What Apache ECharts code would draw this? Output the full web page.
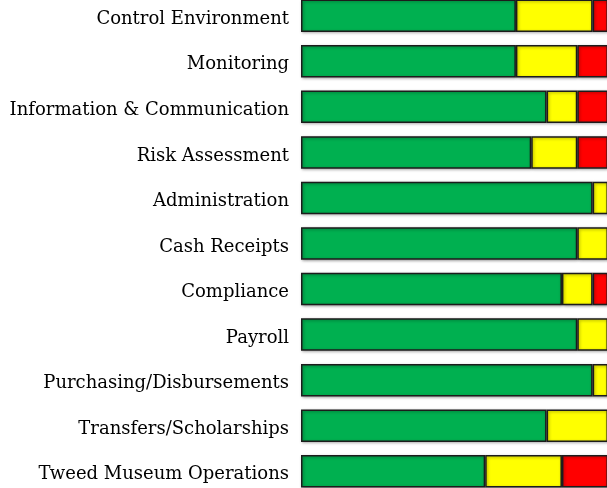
<!DOCTYPE html>
<html>
<head>
<meta charset="utf-8">
<script src="https://cdn.jsdelivr.net/npm/echarts@6/dist/echarts.min.js"></script>
<style>
  html, body { margin: 0; padding: 0; background: #fff; overflow: hidden; }
  /* the original is cropped a little at top, bottom and right */
  #chart { position: absolute; left: 0; top: -7px; width: 609px; height: 501px; }
</style>
</head>
<body>
<div id="chart"></div>
<script>
// categories, top to bottom
const categories = [
  'Control Environment',
  'Monitoring',
  'Information & Communication',
  'Risk Assessment',
  'Administration',
  'Cash Receipts',
  'Compliance',
  'Payroll',
  'Purchasing/Disbursements',
  'Transfers/Scholarships',
  'Tweed Museum Operations'
]

// share of each rating (%)
const greenVals = [70, 70, 80, 75, 95, 90, 85, 90, 95, 80, 60]
const yellowVals = [25, 20, 10, 15, 5, 10, 10, 10, 5, 20, 25]
const redVals = [5, 10, 10, 10, 0, 0, 5, 0, 0, 0, 15]

const chart = echarts.init(document.getElementById('chart'))

// common bar look: black outline + soft shadow like the Excel original
const barStyle = (color) => ({
  color: color,
  borderColor: '#1c1c1c',
  borderWidth: 1.5,
  shadowColor: 'rgba(0,0,0,0.35)',
  shadowBlur: 3,
  shadowOffsetX: 1,
  shadowOffsetY: 1
})

const makeSeries = (name, data, color) => ({
  name: name,
  type: 'bar',
  stack: 'total',
  barWidth: 32.5,
  data: data,
  itemStyle: barStyle(color),
  emphasis: { disabled: true }
})

chart.setOption({
  animation: false,
  grid: { left: 301, right: 1, top: 0, bottom: 0 },
  xAxis: {
    type: 'value',
    min: 0,
    max: 100,
    show: false
  },
  yAxis: {
    type: 'category',
    inverse: true,
    data: categories,
    axisLine: { show: false },
    axisTick: { show: false },
    axisLabel: {
      margin: 12,
      // push the text a few px down, the original sits a bit low
      formatter: (v) => '{t|' + v + '}',
      rich: {
        t: {
          color: '#000',
          fontFamily: 'DejaVu Serif',
          fontSize: 18,
          padding: [7, 0, 0, 0]
        }
      }
    }
  },
  series: [
    makeSeries('Green', greenVals, '#00b050'),
    makeSeries('Yellow', yellowVals, '#ffff00'),
    makeSeries('Red', redVals, '#ff0000')
  ]
})
</script>
</body>
</html>
